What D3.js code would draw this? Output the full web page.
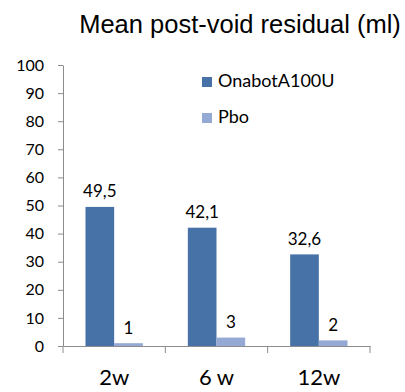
<!DOCTYPE html>
<html>
<head>
<meta charset="utf-8">
<script src="https://cdn.jsdelivr.net/npm/d3@7"></script>
<style>
  html, body { margin: 0; padding: 0; background: #fff; }
  svg { display: block; }
</style>
</head>
<body>
<svg id="chart" width="405" height="392"></svg>
<script>
// Chart data
const categories = ["2w", "6 w", "12w"];
const seriesNames = ["OnabotA100U", "Pbo"];
const onabotValues = [49.5, 42.1, 32.6];
const pboValues = [1, 3, 2];
const yTicks = [0, 10, 20, 30, 40, 50, 60, 70, 80, 90, 100];
const titleText = "Mean post-void residual (ml)";

const colors = ["#4672A8", "#94A9D3"];
const labelFont = "Lato, 'Open Sans', sans-serif";

const svg = d3.select("#chart");
const plot = { left: 63, right: 370, top: 65, bottom: 346 };

const y = d3.scaleLinear().domain([0, 100]).range([plot.bottom, plot.top]);
const x0 = d3.scaleBand().domain(categories).range([plot.left, plot.right]).padding(0);
const groupPad = 22.5;
const x1 = d3.scaleBand().domain(seriesNames)
  .range([groupPad, x0.bandwidth() - groupPad]).padding(0);

const rows = categories.map((c, i) => ({
  category: c,
  values: [
    { series: seriesNames[0], value: onabotValues[i] },
    { series: seriesNames[1], value: pboValues[i] }
  ]
}));

// Title
svg.append("text")
  .attr("x", 240).attr("y", 33)
  .attr("text-anchor", "middle")
  .style("font-family", "'Liberation Sans', Arial, sans-serif")
  .style("font-size", "25.5px")
  .attr("fill", "#000")
  .text(titleText);

// Y axis
const yAxis = d3.axisLeft(y).tickValues(yTicks).tickSize(5).tickPadding(14).tickSizeOuter(0);
const gy = svg.append("g").attr("transform", `translate(${plot.left},0)`).call(yAxis);
gy.select(".domain").attr("stroke", "#8c8c8c");
gy.selectAll(".tick line").attr("stroke", "#8c8c8c");
gy.selectAll(".tick text")
  .style("font-family", labelFont).style("font-size", "16px").attr("fill", "#000");

// Bars
const groups = svg.append("g").selectAll("g").data(rows).join("g")
  .attr("transform", d => `translate(${x0(d.category)},0)`);

groups.selectAll("rect").data(d => d.values).join("rect")
  .attr("x", d => x1(d.series))
  .attr("y", d => y(d.value))
  .attr("width", x1.bandwidth())
  .attr("height", d => y(0) - y(d.value))
  .attr("fill", (d, i) => colors[i]);

// Value labels
groups.selectAll("text.val").data(d => d.values).join("text")
  .attr("class", "val")
  .attr("x", d => x1(d.series) + x1.bandwidth() / 2)
  .attr("y", d => y(d.value) - 9.5)
  .attr("text-anchor", "middle")
  .style("font-family", labelFont).style("font-size", "17px")
  .attr("fill", "#000")
  .text(d => String(d.value).replace(".", ","));

// X axis
const xAxis = d3.axisBottom(x0).tickSize(0).tickSizeOuter(0).tickPadding(0);
const gx = svg.append("g").attr("transform", `translate(0,${plot.bottom})`).call(xAxis);
gx.select(".domain").attr("stroke", "#8c8c8c");
gx.selectAll(".tick text")
  .attr("dy", 0).attr("y", 39)
  .style("font-family", labelFont).style("font-size", "22px").attr("fill", "#000");
// Tick marks at category boundaries
const boundaries = categories.map(c => x0(c)).concat([x0.range()[1]]);
gx.selectAll("line.sep").data(boundaries).join("line")
  .attr("class", "sep")
  .attr("x1", d => d).attr("x2", d => d)
  .attr("y1", 0).attr("y2", 7)
  .attr("stroke", "#8c8c8c");

// Legend
const legend = svg.append("g").selectAll("g").data(seriesNames).join("g")
  .attr("transform", (d, i) => `translate(202,${77 + i * 36})`);
legend.append("rect").attr("width", 10).attr("height", 10).attr("fill", (d, i) => colors[i]);
legend.append("text")
  .attr("x", 16).attr("y", 10)
  .style("font-family", labelFont).style("font-size", "18px").attr("fill", "#000")
  .text(d => d);
</script>
</body>
</html>
